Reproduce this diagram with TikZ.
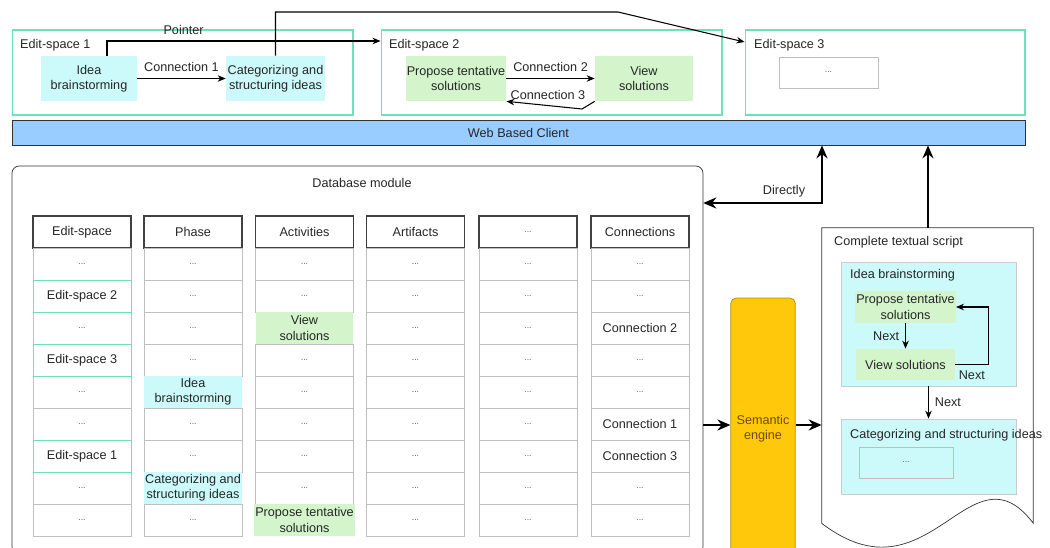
\documentclass[tikz,border=0pt]{standalone}
\usepackage{fontspec}
\setmainfont{Liberation Sans}
\usepackage{xcolor}
\usetikzlibrary{arrows.meta}

\definecolor{espace}{RGB}{110,224,186}
\definecolor{phasefill}{RGB}{204,250,250}
\definecolor{actfill}{RGB}{212,245,204}
\definecolor{webfill}{RGB}{153,204,255}
\definecolor{engfill}{RGB}{255,200,10}
\definecolor{engtext}{RGB}{110,75,0}
\newcommand{\celldots}{{\fontsize{5}{6}\selectfont\color{black!65}...}}

\begin{document}
\begin{tikzpicture}[x=0.02cm, y=-0.02cm,
  every node/.style={font=\fontsize{7.2}{8.6}\selectfont, text=black!85},
  arr/.style={-{Stealth[length=1.6mm,width=1.3mm]}, line width=0.6pt},
  bigarr/.style={-{Stealth[length=2.6mm,width=2.2mm]}, line width=1.6pt},
  bigboth/.style={bigarr, {Stealth[length=2.6mm,width=2.2mm]}-{Stealth[length=2.6mm,width=2.2mm]}},
  space/.style={draw=espace, line width=0.6pt, minimum width=6.82cm, minimum height=1.7cm},
  phase/.style={fill=phasefill, align=center, inner sep=0.5pt, minimum width=1.92cm, minimum height=0.9cm},
  act/.style={fill=actfill, align=center, inner sep=0.5pt, minimum width=1.96cm, minimum height=0.9cm},
  cell/.style={draw=black!25, align=center, inner sep=0.5pt, minimum width=1.96cm, minimum height=0.64cm},
  head/.style={cell, draw=black!75, line width=0.6pt}]
  \useasboundingbox (0,0) rectangle (1050,547);
  \clip (0,0) rectangle (1050,547);

  % edit spaces
  \node[space] (es1) at (182.5,72.5) {};
  \node[anchor=west] (es1lbl) at (14,45) {Edit-space 1};
  \node[space] (es2) at (551.5,72.5) {};
  \node[anchor=west] (es2lbl) at (383,45) {Edit-space 2};
  \node[space, minimum width=5.6cm] (es3) at (885,72.5) {};
  \node[anchor=west] (es3lbl) at (748,45) {Edit-space 3};

  \node[phase] (idea1) at (89,78.5) {Idea\\brainstorming};
  \node[phase, minimum width=1.98cm] (cat1) at (275.5,78.5) {Categorizing and\\structuring ideas};
  \node[act] (prop1) at (456,78.5) {Propose tentative\\solutions};
  \node[act] (view1) at (644,78.5) {View\\solutions};
  \node[cell, minimum width=1.98cm, minimum height=0.62cm] (dots3) at (828.5,72.5) {\celldots};

  \draw[arr] (idea1) -- node[above] {Connection 1} (cat1);
  \draw[arr] (prop1) -- node[above] {Connection 2} (view1);
  \draw[arr] (view1.south west) -- (582,109) -- node[above, pos=0.45] {Connection 3} (prop1.south east);
  \draw[arr] (idea1.north -| 107,0) |- node[above, pos=0.64] {Pointer} (es2.west |- 0,41);
  \coordinate (turn) at (618,12);
  \draw[arr] (cat1.north) |- (turn) -- (es3.west |- 0,42);

  % client bar
  \node[draw=black!80, fill=webfill, minimum width=20.26cm, minimum height=0.5cm] (web) at (518.5,132.5) {Web Based Client};

  % database module
  \node[draw=black!80, rounded corners=4pt, minimum width=13.82cm, minimum height=7.76cm] (db) at (357.5,360) {};
  \node (dblbl) at (362,183) {Database module};

  \foreach \n/\x/\h in {tes/82/Edit-space, tph/193/Phase, tac/304.5/Activities, tar/415.5/Artifacts, tot/528/{\celldots}, tco/640/Connections}
    \node[head] (\n0) at (\x,232) {\h};

  \foreach \rw/\bd/\txt in {1/black!25/{\celldots}, 3/black!25/{\celldots}, 5/black!25/{\celldots}, 6/black!25/{\celldots}, 8/black!25/{\celldots}, 9/black!25/{\celldots}, 2/espace/{Edit-space 2}, 4/espace/{Edit-space 3}, 7/espace/{Edit-space 1}}
    \node[cell, draw=\bd] (tes\rw) at (82,{232+32*\rw}) {\txt};
  \foreach \rw/\bd/\fl/\txt in {1/black!25/white/{\celldots}, 2/black!25/white/{\celldots}, 3/black!25/white/{\celldots}, 4/black!25/white/{\celldots}, 5/none/phasefill/{Idea\\brainstorming}, 6/black!25/white/{\celldots}, 7/black!25/white/{\celldots}, 8/none/phasefill/{Categorizing and\\structuring ideas}, 9/black!25/white/{\celldots}}
    \node[cell, draw=\bd, fill=\fl] (tph\rw) at (193,{232+32*\rw}) {\txt};
  \foreach \rw/\bd/\fl/\txt in {1/black!25/white/{\celldots}, 2/black!25/white/{\celldots}, 3/none/actfill/{View\\solutions}, 4/black!25/white/{\celldots}, 5/black!25/white/{\celldots}, 6/black!25/white/{\celldots}, 7/black!25/white/{\celldots}, 8/black!25/white/{\celldots}, 9/none/actfill/{Propose tentative\\solutions}}
    \node[cell, draw=\bd, fill=\fl] (tac\rw) at (304.5,{232+32*\rw}) {\txt};
  \foreach \rw in {1,...,9} {
    \node[cell] (tar\rw) at (415.5,{232+32*\rw}) {\celldots};
    \node[cell] (tot\rw) at (528,{232+32*\rw}) {\celldots};
  }
  \foreach \rw/\txt in {1/{\celldots}, 2/{\celldots}, 3/{Connection 2}, 4/{\celldots}, 5/{\celldots}, 6/{Connection 1}, 7/{Connection 3}, 8/{\celldots}, 9/{\celldots}}
    \node[cell] (tco\rw) at (640,{232+32*\rw}) {\txt};

  % semantic engine
  \node[draw=engfill!70!black, fill=engfill, rounded corners=3pt, minimum width=1.12cm, minimum height=5.24cm, text=engtext, align=center] (engine) at (763,429) {Semantic\\engine};

  % textual script
  \node[minimum width=4.22cm, minimum height=5.9cm, inner sep=0pt] (script) at (927.5,375.5) {};
  \draw[black!80] (script.south west) -- (script.north west) -- (script.north east) -- (script.south east) .. controls (970,440) and (930,606) .. (script.south west);
  \node[anchor=west] (scriptlbl) at (828,242) {Complete textual script};
  \node[fill=phasefill, draw=black!20, minimum width=3.5cm, minimum height=2.48cm] (ideabox) at (928.5,324) {};
  \node[anchor=west] (idealbl) at (844,275) {Idea brainstorming};
  \node[act, minimum width=1.98cm, minimum height=0.64cm] (prop2) at (905.5,307) {Propose tentative\\solutions};
  \node[act, minimum width=1.98cm, minimum height=0.62cm] (view2) at (905.5,364.5) {View solutions};
  \node[fill=phasefill, draw=black!20, minimum width=3.5cm, minimum height=1.5cm] (catbox) at (928.5,456.5) {};
  \node[anchor=west] (catlbl) at (844,435) {Categorizing and structuring ideas};
  \node[cell, fill=phasefill, minimum width=1.88cm, minimum height=0.62cm] (catdots) at (906,462.5) {\celldots};

  \draw[arr] (prop2) -- node[left] {Next} (view2);
  \draw[arr] (view2.east) -- node[below] {Next} ++(33,0) |- (prop2.east);
  \draw[arr] (ideabox.south) -- node[right] {Next} (catbox.north);

  % links between modules
  \draw[bigboth] (db.east |- 0,203) -| node[above=-1pt, pos=0.34] {Directly} (web.south -| 822,0);
  \draw[bigarr] (script.north -| 928,0) -- (web.south -| 928,0);
  \draw[bigarr] (db.east |- 0,425) -- (engine.west |- 0,425);
  \draw[bigarr] (engine.east |- 0,425) -- (script.west |- 0,425);
\end{tikzpicture}
\end{document}
